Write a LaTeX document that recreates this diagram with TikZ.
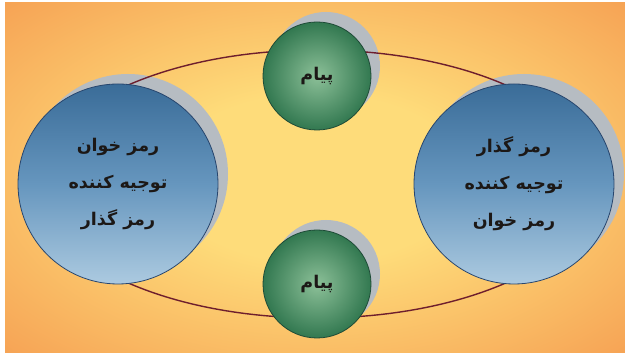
\documentclass[tikz,border=0pt]{standalone}
\usepackage{fontspec}
\newfontfamily\arabicfont[Script=Arabic]{DejaVu Sans}
\TeXXeTstate=1
\definecolor{bgouter}{RGB}{246,162,84}
\definecolor{bginner}{RGB}{254,220,122}
\definecolor{ringred}{RGB}{110,30,45}
\definecolor{shadowgray}{RGB}{182,188,194}
\definecolor{bluetop}{RGB}{58,108,152}
\definecolor{bluemid}{RGB}{102,150,190}
\definecolor{bluebot}{RGB}{172,202,224}
\definecolor{blueedge}{RGB}{40,70,110}
\definecolor{greenlite}{RGB}{140,192,152}
\definecolor{greendark}{RGB}{50,120,80}
\definecolor{greenedge}{RGB}{30,75,55}
\definecolor{inkdark}{RGB}{28,24,22}
\pgfdeclareradialshading{glow}{\pgfpoint{0bp}{0bp}}{color(0bp)=(bginner); color(12bp)=(bginner); color(36bp)=(bgouter); color(50bp)=(bgouter)}
\tikzset{
  disk/.style      = {circle, inner sep=0pt, align=center, text=inkdark,
                      font=\arabicfont\bfseries\fontsize{17.5}{37}\selectfont},
  bluedisk/.style  = {disk, minimum size=200pt, draw=blueedge, line width=0.8pt,
                      top color=bluetop, bottom color=bluebot, middle color=bluemid},
  greendisk/.style = {disk, minimum size=108pt, draw=greenedge, line width=0.8pt,
                      inner color=greenlite, outer color=greendark},
  ghost/.style     = {fill=shadowgray},   % grey shadow behind each disk
  ring/.style      = {draw=ringred, line width=1.4pt},
}
\begin{document}
\begin{tikzpicture}[x=1pt, y=1pt]
  \useasboundingbox (0,0) rectangle (625,355);
  \shade[shading=glow] (5,2) rectangle (625,352);

  \fill[ghost] (128,181) circle (100);
  \fill[ghost] (524,181) circle (100);
  \fill[ghost] (326,289) circle (54);
  \fill[ghost] (326,81)  circle (54);

  \coordinate (mid) at (317,171);
  \draw[ring] (mid) ellipse [x radius=280, y radius=134];

  \node[bluedisk] (dec) at (118,171)
    {\beginR رمز خوان\endR\\ \beginR توجیه کننده\endR\\ \beginR رمز گذار\endR};
  \node[bluedisk] (enc) at (514,171)
    {\beginR رمز گذار\endR\\ \beginR توجیه کننده\endR\\ \beginR رمز خوان\endR};
  \node[greendisk] (msgtop) at (317,279) {\beginR پیام\endR};
  \node[greendisk] (msgbot) at (317,71)  {\beginR پیام\endR};
\end{tikzpicture}
\end{document}
